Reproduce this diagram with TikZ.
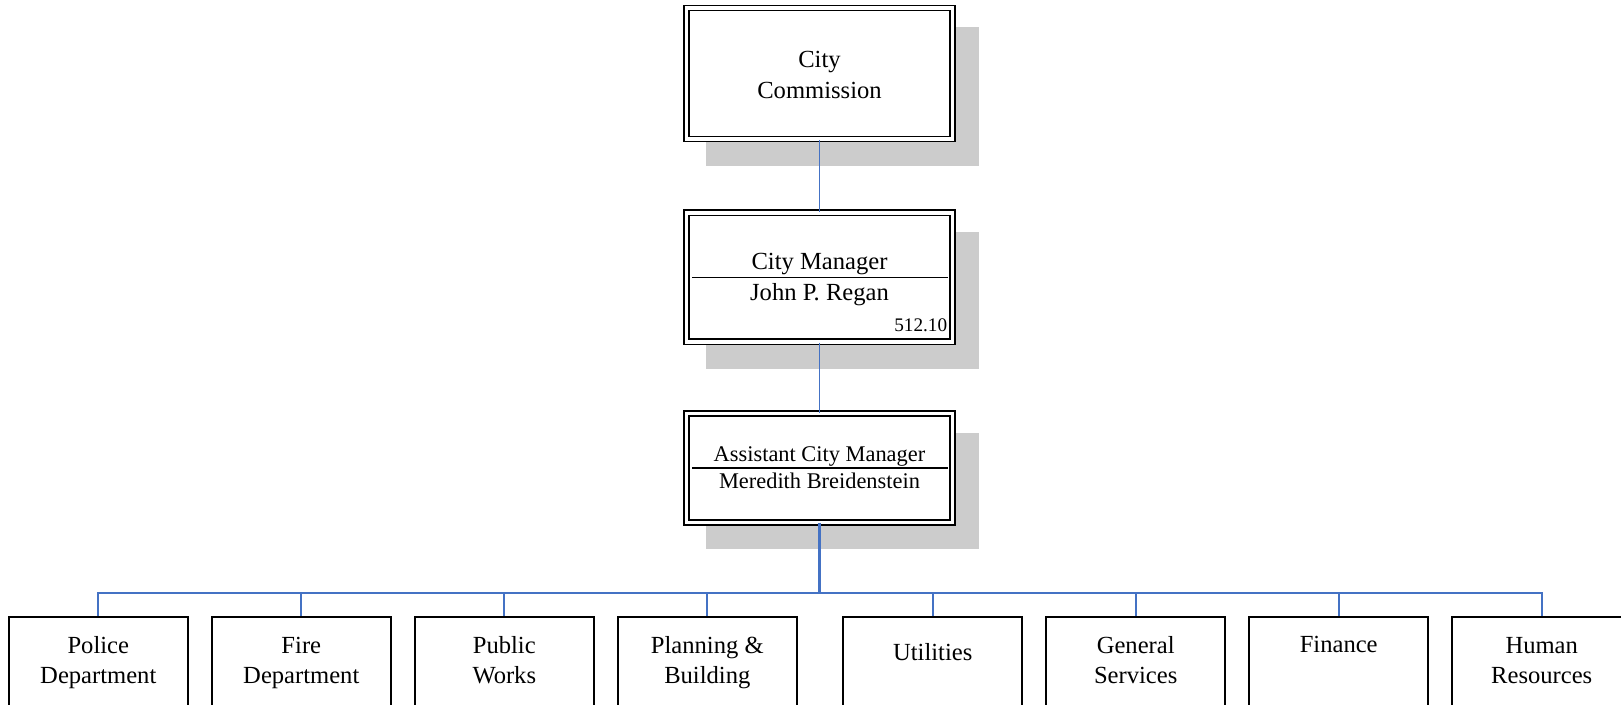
\documentclass[tikz,border=0pt]{standalone}
\usepackage{fontspec}
\setmainfont{Liberation Serif}
\usepackage{tikz}
\tikzset{>=latex}
\usetikzlibrary{backgrounds}
\definecolor{linkblue}{HTML}{4472C4}
\definecolor{shadowgrey}{HTML}{CCCCCC}
\tikzset{
  officebox/.style={draw, fill=white, line width=0.8pt, double=white, double distance=1.8pt, minimum width=133pt, inner sep=0pt},
  deptbox/.style={draw, fill=white, line width=0.9pt, minimum width=89.5pt, minimum height=70pt, anchor=north, inner sep=0pt},
  boxtext/.style={font=\fontsize{12.3}{15.3}\selectfont, inner sep=0pt, align=center},
  smalltext/.style={font=\fontsize{11.2}{13.5}\selectfont, inner sep=0pt},
  codetext/.style={font=\fontsize{9.6}{11.5}\selectfont, inner sep=0pt},
  boxshadow/.style={fill=shadowgrey},
  link/.style={linkblue, line width=0.85pt},
  trunk/.style={linkblue, line width=1.35pt}
}

\begin{document}
\begin{tikzpicture}[x=0.5pt, y=-0.5pt]
            \useasboundingbox (0, 0) rectangle (1621, 705);
            \clip (0, 0) rectangle (1621, 705);

            \node [officebox, minimum height=65.5pt] (commission) at (819.5, 73.6) {};
            \node [officebox, minimum height=64.5pt] (manager) at (819.5, 277.3) {};
            \node [officebox, minimum height=54.5pt] (assistant) at (819.5, 468) {};

            \begin{scope}[on background layer]
                \foreach \office in {commission, manager, assistant}
                    \fill [boxshadow] ([shift={(20, 20)}]\office.north west) rectangle ([shift={(26, 26)}]\office.south east);
            \end{scope}

            \node [boxtext, anchor=north] (commissiontext) at ([shift={(0, -27.5)}]commission.center) {\strut City\\\strut Commission};

            \draw [line width=0.75pt] ([shift={(6.5, 0)}]manager.west) -- ([shift={(-5.5, 0)}]manager.east);
            \node [boxtext, anchor=base] (managertitle) at ([shift={(0, -7.5)}]manager.center) {City Manager};
            \node [boxtext, anchor=base] (managername) at ([shift={(0, 23)}]manager.center) {John P. Regan};
            \node [codetext, anchor=base east] (managercode) at ([shift={(-5.8, -11.1)}]manager.south east) {512.10};

            \draw [line width=0.75pt] ([shift={(6.5, 0)}]assistant.west) -- ([shift={(-5.5, 0)}]assistant.east);
            \node [smalltext, anchor=base] (assistanttitle) at ([shift={(0, -6.3)}]assistant.center) {Assistant City Manager};
            \node [smalltext, anchor=base] (assistantname) at ([shift={(0, 20)}]assistant.center) {Meredith Breidenstein};

            \foreach \dept/\x in {police/98.3, fire/301.3, works/504.3, planning/707.3, utilities/932.7, general/1135.7, finance/1338.7, hr/1541.7}
                \node [deptbox] (\dept) at (\x, 616) {};

            \node [boxtext, anchor=north] (policetext) at ([shift={(0, 15.3)}]police.north) {\strut Police\\\strut Department};
            \node [boxtext, anchor=north] (firetext) at ([shift={(0, 15.3)}]fire.north) {\strut Fire\\\strut Department};
            \node [boxtext, anchor=north] (workstext) at ([shift={(0, 15.3)}]works.north) {\strut Public\\\strut Works};
            \node [boxtext, anchor=north] (planningtext) at ([shift={(0, 15.3)}]planning.north) {\strut Planning \&\\\strut Building};
            \node [boxtext, anchor=base] (utilitiestext) at ([shift={(0, 44)}]utilities.north) {Utilities};
            \node [boxtext, anchor=north] (generaltext) at ([shift={(0, 15.3)}]general.north) {\strut General\\\strut Services};
            \node [boxtext, anchor=base] (financetext) at ([shift={(0, 36.7)}]finance.north) {Finance};
            \node [boxtext, anchor=north] (hrtext) at ([shift={(0, 15.3)}]hr.north) {\strut Human\\\strut Resources};

            \coordinate (bus) at (819.5, 593.3);
            \draw [link] (commission) -- (manager);
            \draw [link] (manager) -- (assistant);
            \draw [trunk] (assistant) -- (bus);
            \foreach \dept in {police, fire, works, planning, utilities, general, finance, hr}
                \draw [link] (bus) -| (\dept);
        \end{tikzpicture}
\end{document}
